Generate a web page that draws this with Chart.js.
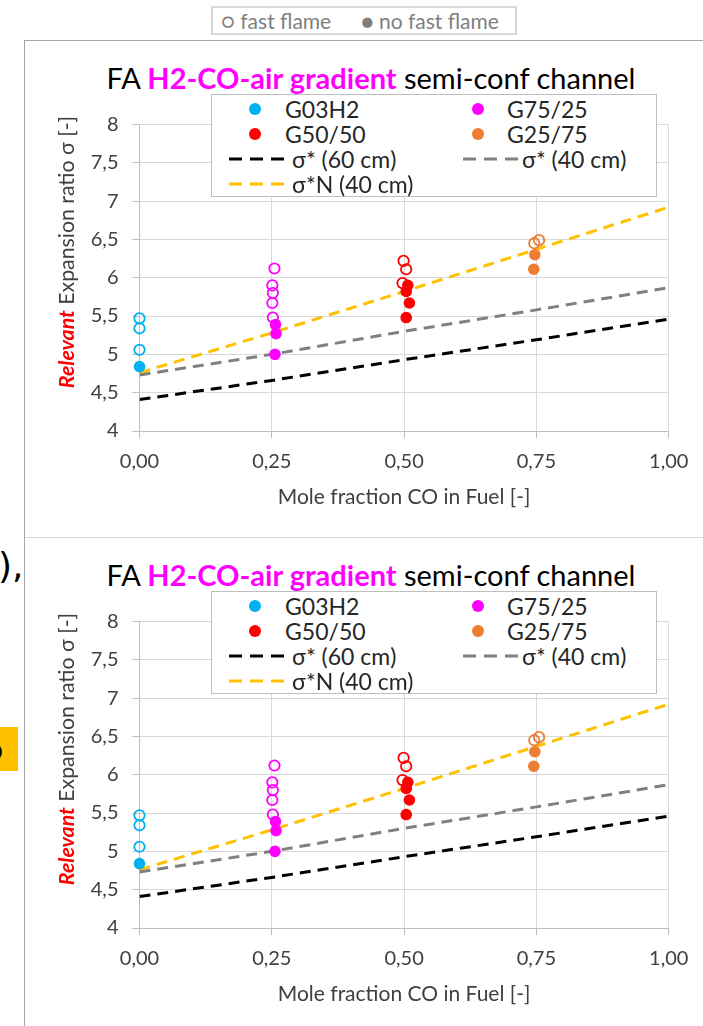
<!DOCTYPE html>
<html>
<head>
<meta charset="utf-8">
<script src="https://cdn.jsdelivr.net/npm/chart.js@4.4.1/dist/chart.umd.min.js"></script>
<style>
  html, body { margin: 0; padding: 0; background: #fff; }
  body { width: 703px; height: 1026px; position: relative; overflow: hidden; font-family: Lato, "Open Sans", sans-serif; }
  .key { position: absolute; left: 211px; top: 6px; width: 302px; height: 25px; border: 2px solid #d9d9d9;
         color: #7f7f7f; font-size: 21px; line-height: 25px; white-space: nowrap; }
  .key span { position: absolute; top: 0; }
  .frame-top { position: absolute; left: 24px; top: 40px; width: 679px; height: 0; border-top: 1.5px solid #a6a6a6; }
  .frame-left { position: absolute; left: 24px; top: 40px; width: 0; height: 986px; border-left: 1.5px solid #a6a6a6; }
  .divider { position: absolute; left: 25px; top: 537px; width: 678px; height: 0; border-top: 1px solid #d9d9d9; }
  .panel { position: absolute; left: 25px; width: 678px; height: 496px; }
  .panel canvas { position: absolute; left: 0; top: 0; }
  .ctitle { position: absolute; left: 0; width: 692px; top: 20px; text-align: center; font-size: 29px; color: #000; white-space: nowrap; line-height: 34px; }
  .ctitle b { color: #ff00ff; font-weight: bold; }
  .ytitle { position: absolute; left: 41px; top: 211px; width: 340px; height: 26px; margin-left: -170px; margin-top: -13px;
            transform: rotate(-90deg); text-align: center; font-size: 21.3px; line-height: 26px; color: #404040; white-space: nowrap; }
  .ytitle i { color: #ff0000; font-weight: bold; }
  .inlegend { position: absolute; left: 186px; top: 53px; width: 444px; height: 101px; background: #fff; border: 1.5px solid #bfbfbf; }
  .inlegend svg { position: absolute; }
  .inlegend .lbl { position: absolute; height: 25px; font-size: 23px; line-height: 25px; color: #262626; white-space: nowrap; }
</style>
</head>
<body>
<div class="key"><span style="left:8px">○ fast flame</span><span style="left:148px">● no fast flame</span></div>
<div class="frame-top"></div>
<div class="frame-left"></div>
<div class="divider"></div>
<div style="position:absolute;left:-2px;top:546px;font-size:36px;line-height:40px;color:#000;font-family:'DejaVu Sans',sans-serif">),</div>
<div style="position:absolute;left:0;top:727px;width:18px;height:44px;background:#ffc000;overflow:hidden"><span style="position:absolute;left:-14px;top:4px;font-size:30px;line-height:34px;color:#000">o</span></div>
<div class="panel" id="p1" style="top:41px"></div>
<div class="panel" id="p2" style="top:538px"></div>

<script>
// Mole fraction of CO in the fuel (x) and expansion ratio sigma (y)
const xTickValues = [0, 0.25, 0.5, 0.75, 1];
const xTickLabels = ['0,00', '0,25', '0,50', '0,75', '1,00'];
const yTickValues = [4, 4.5, 5, 5.5, 6, 6.5, 7, 7.5, 8];
const yTickLabels = ['4', '4,5', '5', '5,5', '6', '6,5', '7', '7,5', '8'];

const seriesNames = ['G03H2', 'G75/25', 'G50/50', 'G25/75'];
const lineNames = ['σ* (60 cm)', 'σ* (40 cm)', 'σ*N (40 cm)'];

// G03H2
const g03h2FastX = [0, 0, 0];
const g03h2FastY = [5.47, 5.34, 5.06];
const g03h2NoFastX = [0];
const g03h2NoFastY = [4.84];
// G75/25
const g7525FastX = [0.255, 0.251, 0.252, 0.251, 0.252];
const g7525FastY = [6.12, 5.90, 5.80, 5.67, 5.48];
const g7525NoFastX = [0.257, 0.258, 0.256];
const g7525NoFastY = [5.39, 5.27, 5.00];
// G50/50
const g5050FastX = [0.499, 0.504, 0.497];
const g5050FastY = [6.22, 6.11, 5.93];
const g5050NoFastX = [0.507, 0.504, 0.510, 0.504];
const g5050NoFastY = [5.90, 5.82, 5.67, 5.48];
// G25/75
const g2575FastX = [0.746, 0.755];
const g2575FastY = [6.45, 6.49];
const g2575NoFastX = [0.747, 0.745];
const g2575NoFastY = [6.30, 6.11];

// Critical expansion ratio curves
const curveX = [0, 0.25, 0.5, 0.75, 1];
const sigma60 = [4.41, 4.66, 4.93, 5.19, 5.46];
const sigma40 = [4.73, 5.00, 5.30, 5.58, 5.87];
const sigmaN40 = [4.76, 5.28, 5.82, 6.37, 6.92];

const seriesColors = ['#00b0f0', '#ff00ff', '#ff0000', '#ed7d31'];
const lineColors = ['#000000', '#808080', '#ffc000'];

const pts = (xs, ys) => xs.map((x, i) => ({ x: x, y: ys[i] }));

function pointSet(xs, ys, color, open) {
  return {
    data: pts(xs, ys),
    showLine: false,
    clip: false,
    order: 0,
    pointStyle: 'circle',
    pointRadius: open ? 5.2 : 5.8,
    pointBorderWidth: open ? 1.8 : 0,
    pointBorderColor: color,
    pointBackgroundColor: open ? 'rgba(0,0,0,0)' : color
  };
}
function curveSet(ys, color) {
  return {
    data: pts(curveX, ys),
    showLine: true,
    order: 1,
    pointRadius: 0,
    borderColor: color,
    borderWidth: 3,
    borderDash: [11, 7],
    fill: false
  };
}

function svgDot(cx, cy, color) {
  return '<svg style="left:' + (cx - 8) + 'px;top:' + (cy - 8) + 'px" width="16" height="16"><circle cx="8" cy="8" r="6" fill="' + color + '"/></svg>';
}
function svgDash(x1, x2, cy, color) {
  return '<svg style="left:' + x1 + 'px;top:' + (cy - 3) + 'px" width="' + (x2 - x1) + '" height="6"><line x1="0" y1="3" x2="' + (x2 - x1) + '" y2="3" stroke="' + color + '" stroke-width="3" stroke-dasharray="13 8"/></svg>';
}
function label(x, cy, text) {
  return '<div class="lbl" style="left:' + x + 'px;top:' + (cy - 12.5) + 'px">' + text + '</div>';
}

function buildPanel(panel) {
  // chart title with the highlighted mixture name
  const t = document.createElement('div');
  t.className = 'ctitle';
  t.innerHTML = 'FA <b>H2-CO-air gradient</b> semi-conf channel';
  panel.appendChild(t);

  const canvas = document.createElement('canvas');
  canvas.width = 678; canvas.height = 496;
  panel.appendChild(canvas);

  const yt = document.createElement('div');
  yt.className = 'ytitle';
  yt.innerHTML = '<i>Relevant</i> Expansion ratio σ [-]';
  panel.appendChild(yt);

  // legend box inside the plot area, two columns
  const lg = document.createElement('div');
  lg.className = 'inlegend';
  const rows = [14, 39, 64, 89];
  lg.innerHTML =
    svgDot(43, rows[0], seriesColors[0]) + label(73, rows[0], seriesNames[0]) +
    svgDot(266, rows[0], seriesColors[1]) + label(295, rows[0], seriesNames[1]) +
    svgDot(43, rows[1], seriesColors[2]) + label(73, rows[1], seriesNames[2]) +
    svgDot(266, rows[1], seriesColors[3]) + label(295, rows[1], seriesNames[3]) +
    svgDash(17, 77, rows[2], lineColors[0]) + label(80, rows[2], lineNames[0]) +
    svgDash(251, 307, rows[2], lineColors[1]) + label(310, rows[2], lineNames[1]) +
    svgDash(17, 77, rows[3], lineColors[2]) + label(80, rows[3], lineNames[2]);
  panel.appendChild(lg);

  new Chart(canvas.getContext('2d'), {
    type: 'scatter',
    data: {
      datasets: [
        pointSet(g03h2FastX, g03h2FastY, seriesColors[0], true),
        pointSet(g03h2NoFastX, g03h2NoFastY, seriesColors[0], false),
        pointSet(g7525FastX, g7525FastY, seriesColors[1], true),
        pointSet(g7525NoFastX, g7525NoFastY, seriesColors[1], false),
        pointSet(g5050FastX, g5050FastY, seriesColors[2], true),
        pointSet(g5050NoFastX, g5050NoFastY, seriesColors[2], false),
        pointSet(g2575FastX, g2575FastY, seriesColors[3], true),
        pointSet(g2575NoFastX, g2575NoFastY, seriesColors[3], false),
        curveSet(sigma60, lineColors[0]),
        curveSet(sigma40, lineColors[1]),
        curveSet(sigmaN40, lineColors[2])
      ]
    },
    options: {
      responsive: false,
      animation: false,
      devicePixelRatio: 1,
      events: [],
      layout: { padding: { left: 54.5, top: 83.4, right: 34.3, bottom: 26 } },
      plugins: { legend: { display: false }, tooltip: { enabled: false }, title: { display: false } },
      scales: {
        x: {
          type: 'linear', min: 0, max: 1,
          afterBuildTicks: s => { s.ticks = xTickValues.map(v => ({ value: v })); },
          afterFit: s => { s.height = 80; },
          ticks: { callback: (v, i) => xTickLabels[i], color: '#404040', font: { family: 'Lato', size: 20 }, padding: 12, maxRotation: 0 },
          grid: { color: '#d9d9d9', lineWidth: 1, tickLength: 7, tickColor: '#bfbfbf' },
          border: { color: '#bfbfbf', width: 1 },
          title: { display: true, text: 'Mole fraction CO in Fuel [-]', color: '#404040', font: { family: 'Lato', size: 21 }, padding: { top: 0, bottom: 1 } }
        },
        y: {
          type: 'linear', min: 4, max: 8,
          afterBuildTicks: s => { s.ticks = yTickValues.map(v => ({ value: v })); },
          afterFit: s => { s.width = 60; },
          ticks: { callback: (v, i) => yTickLabels[i], color: '#404040', font: { family: 'Lato', size: 20 }, padding: 14 },
          grid: { color: '#d9d9d9', lineWidth: 1, tickLength: 7, tickColor: '#bfbfbf' },
          border: { color: '#bfbfbf', width: 1 }
        }
      }
    }
  });
}

buildPanel(document.getElementById('p1'));
buildPanel(document.getElementById('p2'));
</script>
</body>
</html>
